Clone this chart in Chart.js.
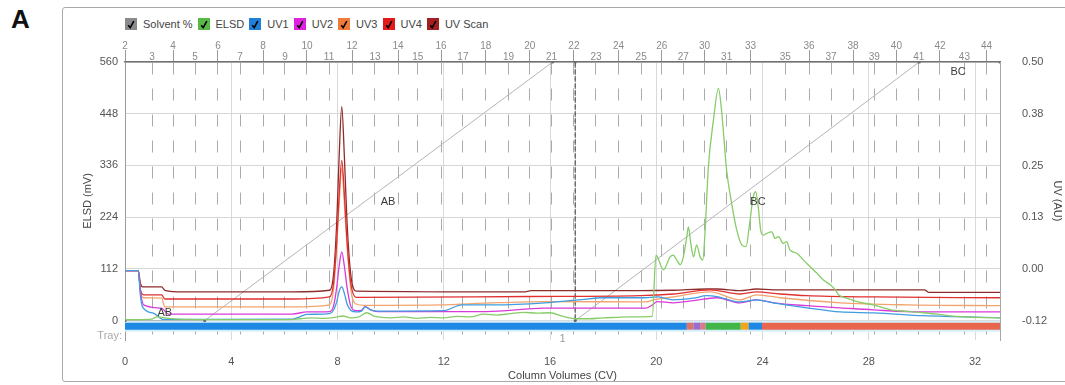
<!DOCTYPE html>
<html>
<head>
<meta charset="utf-8">
<title>Flash chromatography run</title>
<script src="https://cdn.jsdelivr.net/npm/chart.js@4.4.1/dist/chart.umd.min.js"></script>
<style>
  html, body { margin: 0; padding: 0; background: #fff; width: 1065px; height: 385px; overflow: hidden;
    font-family: "Liberation Sans", Arial, sans-serif; }
  #panel { position: absolute; left: 62px; top: 7px; width: 1010px; height: 375px;
    border: 1.5px solid #a9a9a9; border-radius: 3px; box-sizing: border-box; }
  #tag { position: absolute; left: 11px; top: 6px; font: bold 26px "Liberation Sans", Arial, sans-serif;
    color: #111; line-height: 26px; }
  #legend { position: absolute; left: 125px; top: 17px; display: flex; align-items: center;
    font-size: 11px; color: #444; line-height: 14px; }
  #legend .item { display: flex; align-items: center; margin-right: 5px; }
  #legend .box { width: 12px; height: 12px; margin-right: 6px; display: flex; align-items: center;
    justify-content: center; }
  canvas { position: absolute; left: 0; top: 0; }
</style>
</head>
<body>
<div id="panel"></div>
<div id="tag">A</div>
<div id="legend"></div>
<canvas id="chart" width="1065" height="385"></canvas>
<script>
// ---- axis ticks ----
const cvTicks = [0, 4, 8, 12, 16, 20, 24, 28, 32];
const elsdTicks = [0, 112, 224, 336, 448, 560];
const uvTicks = [-0.12, 0.004, 0.128, 0.252, 0.376, 0.50];

// fraction (tube) numbers along the top, and where each tube starts (CV)
const fractionLabels = [2, 3, 4, 5, 6, 7, 8, 9, 10, 11, 12, 13, 14, 15, 16, 17, 18, 19, 20, 21,
  22, 23, 24, 25, 26, 27, 30, 31, 33, 35, 36, 37, 38, 39, 40, 41, 42, 43, 44];
const fractionCV = [0, 1.02, 1.81, 2.64, 3.50, 4.33, 5.20, 6.02, 6.85, 7.68, 8.55, 9.41, 10.28,
  11.02, 11.90, 12.72, 13.58, 14.44, 15.24, 16.06, 16.90, 17.73, 18.58, 19.43, 20.21, 21.02,
  21.82, 22.65, 23.55, 24.86, 25.75, 26.58, 27.41, 28.21, 29.04, 29.88, 30.68, 31.60, 32.43];

// ---- solvent gradient (% B) ----
const solventCV = [0, 3.0, 16.1, 16.95, 16.95, 29.9, 32.94];
const solventPct = [0, 0, 100, 100, 0, 100, 100];
const gradientTags = [
  { text: 'AB', cv: 1.5, pct: 3 },
  { text: 'AB', cv: 9.9, pct: 46 },
  { text: 'BC', cv: 23.83, pct: 46 },
  { text: 'BC', cv: 31.36, pct: 96 }
];

// ---- ELSD (mV) ----
const elsdCV = [0, 0.5, 1.0, 1.2, 1.5, 2.0, 3.0, 4.0, 5.0, 6.0,
  6.6, 7.0, 7.5, 7.9, 8.2, 8.5, 8.8, 9.1, 9.4, 10.0,
  10.5, 11.0, 11.5, 12.0, 12.5, 13.0, 13.5, 14.0, 14.5, 15.0,
  15.5, 16.0, 16.5, 17.0, 17.5, 18.0, 18.5, 19.0, 19.5, 19.85,
  19.99, 20.27, 20.52, 20.64, 20.77, 20.9, 21.02, 21.15, 21.21, 21.3,
  21.4, 21.52, 21.65, 21.75, 21.84, 21.96, 22.15, 22.34, 22.46, 22.65,
  22.84, 23.03, 23.22, 23.38, 23.5, 23.65, 23.74, 23.84, 23.93, 24.03,
  24.16, 24.35, 24.47, 24.6, 24.78, 24.91, 25.03, 25.29, 25.54, 25.79,
  26.04, 26.29, 26.54, 26.73, 26.86, 27.2, 27.56, 28.16, 28.8, 29.4,
  30.04, 30.7, 31.32, 32.1, 32.94];
const elsdMV = [2, 2, 3, 8, 6, 3, 2, 2, 2, 2,
  4, 6, 5, 7, 10, 6, 8, 17, 9, 6,
  8, 5, 7, 6, 9, 8, 14, 12, 15, 18,
  16, 17, 9, 4, 4, 6, 7, 8, 8, 9,
  142, 110, 138, 142, 131, 121, 138, 182, 203, 167,
  138, 164, 138, 131, 196, 332, 433, 503, 454, 325,
  253, 196, 164, 160, 203, 268, 279, 246, 196, 185,
  189, 192, 178, 182, 167, 171, 153, 146, 131, 117,
  103, 88, 78, 67, 56, 48, 41, 34, 24, 20,
  17, 13, 9, 7, 6];

// ---- UV channels (AU) ----
const uv1CV = [0, 0.5, 0.58, 0.66, 1.07, 1.45, 2.5, 6.3, 6.6, 6.85,
  7.7, 7.85, 7.97, 8.06, 8.16, 8.26, 8.36, 8.5, 8.7, 8.9,
  9.04, 9.25, 9.5, 12.0, 12.68, 13.93, 15.81, 17.06, 18.07, 19.58,
  20.02, 20.64, 21.4, 21.9, 22.28, 23.15, 23.78, 24.41, 25.66, 26.92,
  28.17, 30.06, 32.94];
const uv1AU = [0, 0, -0.06, -0.087, -0.102, -0.117, -0.117, -0.116, -0.110, -0.105,
  -0.103, -0.095, -0.075, -0.05, -0.039, -0.055, -0.08, -0.095, -0.099, -0.097,
  -0.087, -0.094, -0.097, -0.096, -0.082, -0.082, -0.077, -0.070, -0.065, -0.065,
  -0.063, -0.070, -0.066, -0.060, -0.062, -0.075, -0.070, -0.077, -0.089, -0.099,
  -0.101, -0.108, -0.113];

const uv2CV = [0, 0.5, 0.58, 0.7, 1.38, 1.63, 6.3, 6.85, 7.7, 7.85,
  7.97, 8.06, 8.16, 8.26, 8.36, 8.5, 8.7, 8.9, 9.04, 9.25,
  9.5, 13.6, 15.8, 19.6, 19.9, 20.02, 20.64, 21.4, 22.28, 23.15,
  23.78, 24.41, 25.66, 26.92, 28.17, 30.06, 32.94];
const uv2AU = [0, 0, -0.05, -0.082, -0.090, -0.104, -0.104, -0.099, -0.098, -0.085,
  -0.04, 0.01, 0.045, 0.01, -0.04, -0.085, -0.096, -0.095, -0.086, -0.094,
  -0.098, -0.098, -0.090, -0.090, -0.080, -0.074, -0.077, -0.072, -0.065, -0.077,
  -0.070, -0.077, -0.084, -0.089, -0.094, -0.099, -0.099];

const uv3CV = [0, 0.5, 0.58, 0.7, 1.38, 1.5, 6.3, 7.7, 7.85, 7.97,
  8.06, 8.16, 8.26, 8.36, 8.5, 8.7, 9.0, 12.0, 13.5, 15.8,
  19.6, 19.9, 20.64, 22.03, 23.15, 23.78, 24.66, 26.92, 29.43, 32.94];
const uv3AU = [0, 0, -0.05, -0.065, -0.066, -0.087, -0.087, -0.082, -0.045, 0.06,
  0.16, 0.245, 0.16, 0.06, -0.045, -0.080, -0.083, -0.082, -0.078, -0.074,
  -0.075, -0.070, -0.063, -0.051, -0.070, -0.058, -0.065, -0.077, -0.082, -0.084];

const uv4CV = [0, 0.5, 0.58, 0.7, 1.38, 1.5, 6.3, 7.7, 7.85, 7.97,
  8.06, 8.16, 8.26, 8.36, 8.5, 8.7, 15.3, 19.4, 20.64, 22.03,
  23.15, 23.78, 24.66, 25.66, 28.17, 32.94];
const uv4AU = [0, 0, -0.045, -0.058, -0.058, -0.068, -0.068, -0.063, -0.03, 0.07,
  0.18, 0.264, 0.18, 0.07, -0.03, -0.064, -0.062, -0.060, -0.056, -0.046,
  -0.056, -0.051, -0.056, -0.060, -0.063, -0.065];

const uvScanCV = [0, 0.5, 0.58, 0.66, 1.38, 1.5, 2.2, 6.3, 7.7, 7.85,
  7.97, 8.06, 8.16, 8.26, 8.36, 8.5, 8.7, 15.0, 15.3, 19.4,
  20.64, 21.9, 22.28, 23.15, 23.78, 24.41, 30.1, 30.25, 32.94];
const uvScanAU = [0, 0, -0.03, -0.039, -0.039, -0.047, -0.051, -0.051, -0.047, -0.01,
  0.114, 0.271, 0.393, 0.271, 0.114, -0.01, -0.049, -0.051, -0.048, -0.048,
  -0.047, -0.044, -0.044, -0.048, -0.044, -0.046, -0.046, -0.052, -0.052];

// ---- fraction collector tray track ----
const trayCV = [0, 21.15, 21.4, 21.65, 21.86, 23.18, 23.48, 23.98, 32.94];
const trayNumber = 1;

// ---- axis ranges ----
const cvMax = 32.94;
const elsdMin = -42, elsdMax = 560;
const uvMin = -0.1662, uvMax = 0.50;

// ---- styling ----
const FONT = '"Liberation Sans", Arial, sans-serif';
const trayColors = ['#1e88e5', '#dd7468', '#9a6ccf', '#d77a8c', '#43b649', '#f2a51c', '#1e88e5', '#e8664e'];
const trayLevel = -12;   // mV, the strip sits just under the ELSD zero line

const pts = (xs, ys) => xs.map((x, i) => ({ x, y: ys[i] }));

const series = [
  { label: 'Solvent %', swatch: '#8a8a8a' },
  { label: 'ELSD', swatch: '#58b947' },
  { label: 'UV1', swatch: '#1f7fd9' },
  { label: 'UV2', swatch: '#e022e0' },
  { label: 'UV3', swatch: '#f07a3a' },
  { label: 'UV4', swatch: '#e21a1a' },
  { label: 'UV Scan', swatch: '#a41f22' }
];

const trace = (label, data, color, axis, order) => ({
  label, data, yAxisID: axis, borderColor: color, borderWidth: 1.3, pointRadius: 0,
  cubicInterpolationMode: 'monotone', fill: false, order
});

const labelsPlugin = {
  id: 'gradientLabels',
  afterDatasetsDraw(chart) {
    const { ctx, scales, chartArea } = chart;
    const xs = scales.x, ys = scales.yS, ye = scales.yE;
    ctx.save();
    ctx.font = '11px ' + FONT;
    ctx.fillStyle = '#3a3a3a';
    ctx.textAlign = 'center';
    ctx.textBaseline = 'middle';
    gradientTags.forEach(t => ctx.fillText(t.text, xs.getPixelForValue(t.cv), ys.getPixelForValue(t.pct)));
    const ty = ye.getPixelForValue(trayLevel);
    ctx.fillStyle = '#ababab';
    ctx.textAlign = 'right';
    ctx.fillText('Tray:', chartArea.left - 3, ty + 10);
    ctx.textAlign = 'center';
    ctx.fillStyle = '#9a9a9a';
    ctx.fillText(String(trayNumber),
      xs.getPixelForValue((trayCV[0] + trayCV[trayCV.length - 1]) / 2), ty + 13);
    ctx.restore();
  }
};

const chart = new Chart(document.getElementById('chart'), {
  type: 'line',
  data: {
    datasets: [
      trace('ELSD', pts(elsdCV, elsdMV), '#86cc68', 'yE', 1),
      trace('UV1', pts(uv1CV, uv1AU), '#3f9de0', 'yU', 2),
      trace('UV2', pts(uv2CV, uv2AU), '#d93ad9', 'yU', 3),
      trace('UV3', pts(uv3CV, uv3AU), '#f2a46e', 'yU', 5),
      trace('UV4', pts(uv4CV, uv4AU), '#e03030', 'yU', 4),
      trace('UV Scan', pts(uvScanCV, uvScanAU), '#8e2b2b', 'yU', 6),
      {
        label: 'Solvent %', data: pts(solventCV, solventPct), yAxisID: 'yS',
        borderColor: '#b4b4b4', borderWidth: 1, tension: 0, order: 7,
        pointRadius: 1.6, pointBackgroundColor: '#666', pointBorderWidth: 0,
        segment: {
          borderColor: c => c.p0.parsed.x === c.p1.parsed.x ? '#6a6a6a' : undefined,
          borderDash: c => c.p0.parsed.x === c.p1.parsed.x ? [4, 3] : undefined
        }
      },
      {
        label: 'tray', data: trayCV.map(x => ({ x, y: trayLevel })), yAxisID: 'yE',
        borderWidth: 7, borderCapStyle: 'butt', pointRadius: 0, tension: 0, order: 8,
        borderColor: trayColors[0],
        segment: { borderColor: c => trayColors[c.p0DataIndex] }
      },
      {
        label: 'trayEdge', data: trayCV.filter((x, i) => i === 0 || i === trayCV.length - 1).map(x => ({ x, y: trayLevel })),
        yAxisID: 'yE', borderWidth: 11, borderCapStyle: 'butt', pointRadius: 0, order: 9,
        borderColor: '#d6eef9'
      }
    ]
  },
  options: {
    responsive: false,
    animation: false,
    events: [],
    devicePixelRatio: 1,
    layout: { padding: { left: 78, right: 0, top: 0, bottom: 0 } },
    plugins: { legend: { display: false }, tooltip: { enabled: false } },
    scales: {
      x: {
        type: 'linear', position: 'bottom', min: 0, max: cvMax,
        afterBuildTicks: s => { s.ticks = cvTicks.map(v => ({ value: v })); },
        afterFit: s => { s.height = 45; },
        grid: { color: '#d9d9d9', lineWidth: 1, drawTicks: false },
        border: { display: false },
        ticks: { color: '#555', font: { family: FONT, size: 11 }, padding: 15, maxRotation: 0 },
        title: { display: true, text: 'Column Volumes (CV)', color: '#444',
          font: { family: FONT, size: 11 }, padding: { top: 0, bottom: 2 } }
      },
      xFrac: {
        type: 'linear', position: 'top', min: 0, max: cvMax,
        afterBuildTicks: s => { s.ticks = fractionCV.map(v => ({ value: v })); },
        afterFit: s => { s.height = 62; },
        grid: {
          color: '#ababab', lineWidth: 1, drawTicks: true, tickLength: 12,
          tickColor: c => (c.index % 2 === 0 ? '#9a9a9a' : 'rgba(0,0,0,0)'), tickWidth: 1
        },
        border: { display: true, color: '#727272', width: 1.5, dash: [12, 14] },
        ticks: {
          autoSkip: false, maxRotation: 0, minRotation: 0, padding: -13,
          color: '#8a8a8a', font: { family: FONT, size: 10, lineHeight: 1.1 },
          callback: (v, i) => (i % 2 === 0 ? [String(fractionLabels[i]), ''] : ['', String(fractionLabels[i])])
        }
      },
      yE: {
        type: 'linear', position: 'left', min: elsdMin, max: elsdMax,
        afterBuildTicks: s => { s.ticks = elsdTicks.map(v => ({ value: v })); },
        afterFit: s => { s.width = 47; },
        grid: { color: '#d6d6d6', lineWidth: 1, drawTicks: false },
        border: { display: true, color: '#9c9c9c', width: 1 },
        ticks: { color: '#555', font: { family: FONT, size: 11 }, padding: 7 },
        title: { display: true, text: 'ELSD (mV)', color: '#444',
          font: { family: FONT, size: 11 }, padding: { top: 3, bottom: 0 } }
      },
      yU: {
        type: 'linear', position: 'right', min: uvMin, max: uvMax,
        afterBuildTicks: s => { s.ticks = uvTicks.map(v => ({ value: v })); },
        afterFit: s => { s.width = 65; },
        grid: { drawOnChartArea: false, drawTicks: false },
        border: { display: true, color: '#a8a8a8', width: 1 },
        ticks: { color: '#555', font: { family: FONT, size: 11 }, padding: 22,
          callback: v => Number(v).toFixed(2) },
        title: { display: true, text: 'UV (AU)', color: '#444',
          font: { family: FONT, size: 11 }, padding: { top: 1, bottom: 0 } }
      },
      yS: {
        type: 'linear', display: false,
        min: elsdMin / elsdMax * 100, max: 100
      }
    }
  },
  plugins: [labelsPlugin]
});

// legend with check-box swatches
const legend = document.getElementById('legend');
series.forEach(s => {
  const item = document.createElement('div');
  item.className = 'item';
  const box = document.createElement('div');
  box.className = 'box';
  box.style.background = s.swatch;
  box.innerHTML = '<svg width="8" height="9" viewBox="0 0 8 9"><path d="M1.2 5.2 L3.2 7.6 L6.8 1.2" fill="none" stroke="#000" stroke-width="1.6"/></svg>';
  const txt = document.createElement('span');
  txt.textContent = s.label;
  item.appendChild(box);
  item.appendChild(txt);
  legend.appendChild(item);
});
</script>
</body>
</html>
